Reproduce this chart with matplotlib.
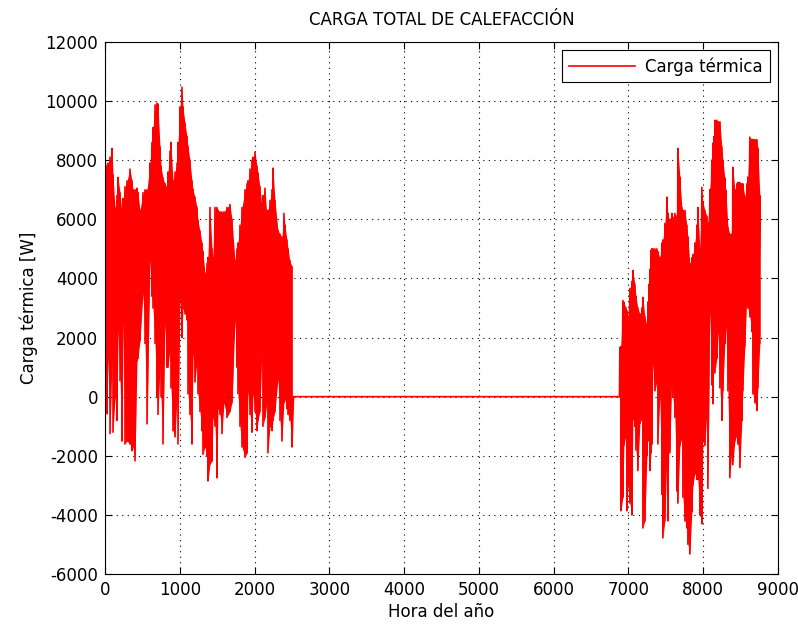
import numpy as np
import matplotlib
matplotlib.use("Agg")
import matplotlib.pyplot as plt

plt.rcParams['font.family'] = ['DejaVu Sans']
plt.rcParams['axes.unicode_minus'] = False

# Heating season 1 (hours 0 - ~2500): per-position upper / lower envelope
hours_a = [0, 27, 40, 67, 94, 107, 134, 160, 174, 201, 227, 241, 267, 294, 334, 361, 374, 401,
           428, 441, 468, 508, 535, 562, 602, 628, 642, 669, 695, 709, 735, 749, 775, 802, 829,
           842, 869, 882, 909, 936, 963, 976, 1003, 1029, 1043, 1070, 1096, 1110, 1136, 1163,
           1177, 1203, 1230, 1243, 1270, 1297, 1310, 1337, 1364, 1377, 1404, 1431, 1444, 1471,
           1497, 1511, 1538, 1564, 1591, 1631, 1671, 1698, 1738, 1765, 1778, 1805, 1832, 1872,
           1899, 1912, 1939, 1965, 1979, 2006, 2032, 2046, 2072, 2099, 2112, 2139, 2166, 2179,
           2206, 2233, 2246, 2273, 2313, 2340, 2366, 2393, 2407, 2433, 2447, 2473, 2500]
top_a = [7830, 7830, 7900, 8100, 8400, 7500, 6370, 6800, 7420, 6900, 6200, 6700, 7100, 7300,
         7700, 7300, 7000, 7000, 7050, 6900, 6300, 6900, 7000, 7000, 7900, 8600, 9100, 9870,
         9930, 9900, 8450, 7800, 7400, 7200, 7080, 7600, 8300, 8600, 7300, 7600, 7900, 8600,
         9800, 10470, 9800, 9250, 8800, 8450, 8000, 7300, 7000, 6750, 6400, 5970, 5600, 5190,
         4900, 4170, 4500, 4710, 6400, 5000, 4700, 6400, 6400, 6300, 6250, 6250, 6250, 6400,
         6500, 6000, 4600, 5000, 5200, 5800, 6400, 7000, 7200, 7300, 7700, 8000, 8100, 8270,
         7800, 7560, 7100, 6400, 6800, 7050, 6070, 6300, 6640, 7000, 7730, 6640, 5630, 5500,
         5400, 6200, 5800, 5300, 5000, 4600, 4400]
bot_a = [1320, -580, 1320, -1250, 1320, -1200, 0, -800, 2240, 540, -1500, 2580, -1600, -1500,
         -1600, -1830, -1700, -2170, 1220, 1300, 1900, 3490, 1800, -920, 4600, 3400, 3000, 1800,
         0, -600, 1000, 0, -1600, 2450, 1000, 1000, 1600, 300, -1150, -1360, 0, -1600, 3350,
         2000, 3000, 2800, 2600, 100, -600, -1600, 1500, 500, 1200, 100, -500, -1150, -1950,
         -1700, -2000, -2850, -2280, -2170, -700, -1000, -2740, -400, -600, -1250, -200, -700,
         -500, -200, 2580, 1000, 100, -1000, -1700, -2050, -1900, 200, -600, -1200, 100, -500,
         -1150, -800, -500, 1650, -1000, -700, -200, -1900, -1000, -1150, -800, -500, 600, -800,
         -1500, -200, -100, -400, -600, -800, -1700]

# Summer: no heating load
zero_hours = [2520, 6880]
zero_vals = [0, 0]

# Heating season 2 (hours ~6886 - 8760)
hours_b = [6886, 6899, 6926, 6939, 6966, 6979, 6993, 7019, 7046, 7059, 7086, 7100, 7126, 7153,
           7167, 7180, 7193, 7220, 7247, 7260, 7274, 7287, 7300, 7313, 7327, 7354, 7380, 7394,
           7420, 7447, 7460, 7487, 7514, 7527, 7541, 7554, 7581, 7594, 7621, 7648, 7661, 7688,
           7714, 7728, 7755, 7781, 7795, 7821, 7848, 7862, 7888, 7915, 7928, 7955, 7982, 7995,
           8022, 8049, 8062, 8089, 8116, 8129, 8142, 8156, 8182, 8196, 8223, 8249, 8263, 8289,
           8303, 8330, 8356, 8383, 8396, 8423, 8450, 8463, 8490, 8517, 8530, 8557, 8584, 8597,
           8624, 8650, 8664, 8691, 8717, 8731, 8757]
top_b = [1660, 1700, 3250, 3200, 3000, 2900, 2700, 3660, 3900, 4270, 3800, 3400, 3000, 2800,
         2580, 3000, 3360, 2700, 2400, 3200, 3800, 4300, 4950, 5000, 5000, 5000, 5000, 4900,
         4700, 5200, 5300, 5860, 6750, 6200, 6000, 6000, 6200, 6070, 6200, 6100, 8400, 7430,
         6400, 6300, 6300, 5800, 5400, 4500, 4700, 4800, 5200, 5800, 6400, 5000, 7080, 6600,
         6300, 6100, 5860, 7000, 8000, 8570, 8800, 9350, 9350, 9300, 9300, 8450, 8000, 7400,
         6980, 5730, 5500, 5500, 7760, 7000, 7200, 7250, 7250, 7200, 7200, 6750, 7200, 7430,
         8780, 8700, 8700, 8700, 8700, 8400, 6800]
bot_b = [0, -3860, -3400, -1650, -1300, -3860, -3000, -3600, -4000, -750, -1000, -1800, -2500,
         -900, -800, -700, -4440, -4200, -2000, -650, -1500, -2500, -1900, -1600, 1100, 200, 500,
         -1600, 0, -3300, -4780, -4200, -2000, -4200, -1600, -1900, 880, 0, -700, -3190, -3600,
         -1650, -1400, -3400, -4200, -4440, -4990, -5320, -3900, -3000, -2600, -2800, -2800,
         -4000, -4300, -1500, -1650, -500, -3100, 2900, 400, -240, 1700, 800, 1300, 2200, 300,
         -800, 200, 1800, 2350, 200, -2740, -1800, -2300, -1500, -1300, -1600, -2400, -800, 200,
         1700, 3490, 3000, 2700, 2200, 100, -200, -470, 300, 1800]


def zig(h, top, bot):
    x = np.repeat(np.asarray(h, float), 2)
    y = np.empty(2 * len(h))
    y[0::2] = top
    y[1::2] = bot
    return x, y


RED = '#ff0000'
xa, ya = zig(hours_a, top_a, bot_a)
xb, yb = zig(hours_b, top_b, bot_b)
x = np.concatenate([xa, zero_hours, xb])
y = np.concatenate([ya, zero_vals, yb])

fig = plt.figure(figsize=(7.98, 6.28), dpi=100)
ax = fig.add_axes([105 / 798, 1 - 574 / 628, (778 - 105) / 798, (574 - 42) / 628])

# dense hourly band: filled core between envelopes plus the spiky trace
ax.fill_between(hours_a, bot_a, top_a, color=RED, linewidth=0)
ax.fill_between(hours_b, bot_b, top_b, color=RED, linewidth=0)
ax.plot(x, y, color=RED, linewidth=1.2, label='Carga térmica')

ax.set_xlim(0, 9000)
ax.set_ylim(-6000, 12000)
ax.set_xticks(np.arange(0, 9001, 1000))
ax.set_yticks(np.arange(-6000, 12001, 2000))
ax.grid(True, linestyle=(0, (1, 4)), color='black', linewidth=0.8)
ax.tick_params(direction='in', top=True, right=True, length=5, labelsize=12, width=0.8, pad=5)
for s in ax.spines.values():
    s.set_linewidth(0.8)

ax.set_title('CARGA TOTAL DE CALEFACCIÓN', fontsize=12, pad=12)
ax.set_xlabel('Hora del año', fontsize=12, labelpad=3)
ax.set_ylabel('Carga térmica [W]', fontsize=12, labelpad=5)

leg = ax.legend(loc='upper right', fontsize=12, handlelength=4.0, handletextpad=0.6,
                fancybox=False, edgecolor='black', framealpha=1, borderaxespad=0.5,
                borderpad=0.4)
leg.get_frame().set_linewidth(0.8)

fig.savefig('out.png', dpi=100, facecolor='white')
